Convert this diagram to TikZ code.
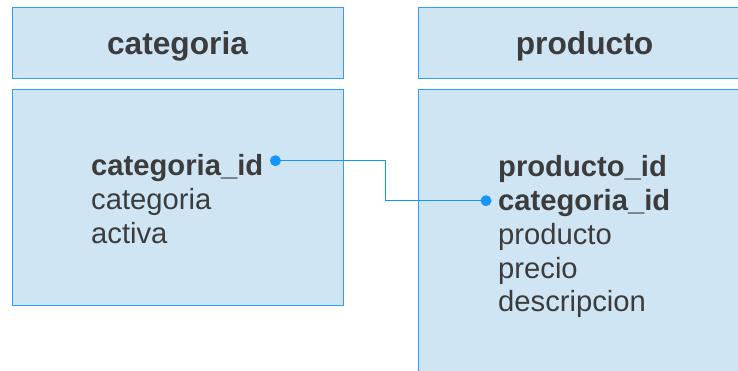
\documentclass[tikz,border=0pt]{standalone}
\usepackage{fontspec}
\setmainfont{Liberation Sans}
\usetikzlibrary{positioning}

\definecolor{tablefill}{RGB}{207,229,243}
\definecolor{tableline}{RGB}{45,160,245}
\definecolor{linkblue}{RGB}{20,150,252}
\definecolor{fieldtext}{RGB}{60,60,60}

\tikzset{
  tablebox/.style={draw=tableline, fill=tablefill, line width=1.4pt, anchor=north west, inner sep=0pt},
  tabletitle/.style={text=fieldtext, font=\fontsize{31.7}{38}\selectfont\bfseries},
  field/.style={text=fieldtext, anchor=base west, inner sep=0pt, font=\fontsize{29.2}{34}\selectfont},
  keyfield/.style={field, font=\fontsize{29.2}{34}\selectfont\bfseries},
  linkdot/.style={circle, fill=linkblue, inner sep=0pt, minimum size=11pt},
}

\begin{document}
\begin{tikzpicture}[x=1pt, y=-1pt]
    \useasboundingbox (0,0) rectangle (738,371);
    \clip (0,0) rectangle (738,371);

    % categoria
    \node[tablebox, minimum width=331pt, minimum height=71pt] (cathead) at (12,7) {};
    \node[tabletitle] (cattitle) at (177.5,46) {categoria};
    \node[tablebox, minimum width=331pt, minimum height=216pt] (catbody) at (12,89) {};
    \node[keyfield] (catid) at (91,176) {categoria\_id};
    \node[field] (catname) at (91,209.5) {categoria};
    \node[field] (catactive) at (91,243.5) {activa};

    % producto
    \node[tablebox, minimum width=340pt, minimum height=71pt] (prodhead) at (418,7) {};
    \node[tabletitle] (prodtitle) at (584.5,46) {producto};
    \node[tablebox, minimum width=340pt, minimum height=320pt] (prodbody) at (418,89) {};
    \node[keyfield] (prodid) at (498,176.5) {producto\_id};
    \node[keyfield] (prodcat) at (498,210.5) {categoria\_id};
    \node[field] (prodname) at (498,244) {producto};
    \node[field] (prodprice) at (498,278) {precio};
    \node[field] (proddesc) at (498,311.5) {descripcion};

    % relation
    \node[linkdot] (catdot) at ([xshift=12pt, yshift=15.3pt]catid.base east) {};
    \node[linkdot] (proddot) at ([xshift=-12pt, yshift=9.8pt]prodcat.base west) {};
    \draw[linkblue, line width=1pt] (catdot.center) -| (385,0 |- proddot.center) -- (proddot.center);
\end{tikzpicture}
\end{document}
